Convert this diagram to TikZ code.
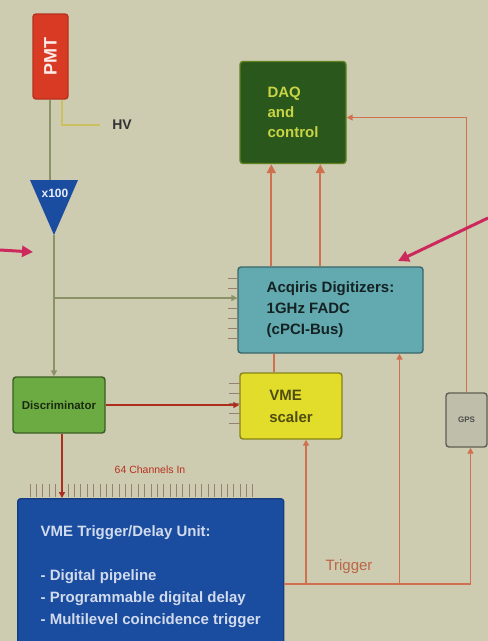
\documentclass[tikz,border=0pt]{standalone}
\usepackage{fontspec}
\setmainfont{Liberation Sans}
\usetikzlibrary{arrows.meta}
\definecolor{figBg}{RGB}{205,203,176}
\definecolor{figRed}{RGB}{216,58,36}
\definecolor{figDaq}{RGB}{42,88,28}
\definecolor{figDaqT}{RGB}{200,212,70}
\definecolor{figTeal}{RGB}{98,170,176}
\definecolor{figYel}{RGB}{226,220,42}
\definecolor{figGrn}{RGB}{108,170,66}
\definecolor{figBlue}{RGB}{26,76,160}
\definecolor{figGps}{RGB}{190,190,170}
\definecolor{figO}{RGB}{208,112,78}
\definecolor{figSig}{RGB}{138,146,104}
\definecolor{figHv}{RGB}{204,192,96}
\definecolor{figPink}{RGB}{204,40,92}
\definecolor{figT}{RGB}{150,128,112}

\begin{document}
\begin{tikzpicture}[x=1pt, y=-1pt,
  blk/.style={draw, line width=1.4pt, rounded corners=3pt, inner sep=2pt, align=left},
  link/.style={line width=1.8pt, figO},
  sig/.style={line width=1.8pt, figSig},
  tip/.style={-{Triangle[length=6pt,width=6pt]}},
  bigtip/.style={-{Triangle[length=9pt,width=9pt]}},
  tick/.style={line width=1pt, figT},
  pink/.style={line width=3pt, figPink, -{Triangle[length=11pt,width=11pt]}}]
% ====== canvas ======
\path[use as bounding box, fill=figBg] (0,0) rectangle (488,641);
\clip (0,0) rectangle (488,641);
% ====== blocks ======
\node[blk, fill=figRed, draw=figRed!85!black, minimum width=35pt, minimum height=85pt,
  text=white!90!figRed, font=\fontsize{18}{20}\selectfont\bfseries] (pmt) at (50.5,56.5) {\rotatebox{90}{PMT}};
\node[blk, fill=figDaq, draw=figDaq!70!figYel, minimum width=106pt, minimum height=102pt,
  text=figDaqT, font=\fontsize{15}{20}\selectfont\bfseries] (daq) at (293,112.5) {DAQ\\and\\control};
\node[blk, fill=figTeal, draw=figTeal!60!black, minimum width=185pt, minimum height=86pt,
  text=black!80!figTeal, font=\fontsize{15}{21}\selectfont\bfseries] (fadc) at (330.5,310) {Acqiris Digitizers:\\1GHz FADC\\(cPCI-Bus)};
\node[blk, fill=figYel, draw=figYel!60!black, minimum width=102pt, minimum height=66pt,
  text=black!65!figYel, font=\fontsize{15}{22}\selectfont\bfseries] (scaler) at (291,406) {VME\\scaler};
\node[blk, fill=figGrn, draw=figGrn!55!black, minimum width=92pt, minimum height=56pt,
  text=black!75!figGrn, font=\fontsize{11.5}{13}\selectfont\bfseries] (disc) at (59,405) {Discriminator};
\node[blk, fill=figGps, draw=figGps!50!black, minimum width=41pt, minimum height=54pt,
  text=black!70, font=\fontsize{8}{9}\selectfont\bfseries] (gps) at (466.5,420) {GPS};
\node[blk, fill=figBlue, draw=figBlue!80!black, anchor=north west, minimum width=266pt, minimum height=156pt,
  text=white!80!figBlue, font=\fontsize{15}{22}\selectfont\bfseries] (trig) at (17,498)
  {VME Trigger/Delay Unit:\\[22pt]- Digital pipeline\\- Programmable digital delay\\- Multilevel coincidence trigger};
% amplifier (triangle)
\fill[figBlue] (30,180) -- (78,180) -- (54,235) -- cycle;
\coordinate (amp-in) at (50,180);
\coordinate (amp-tip) at (54,235);
\node[text=white!90!figBlue, font=\fontsize{12}{14}\selectfont\bfseries] (amp) at (55,193) {x100};
% ====== labels ======
\node[font=\fontsize{14}{16}\selectfont\bfseries, text=black!80] (hv) at (122,125) {HV};
\node[font=\fontsize{10.5}{12}\selectfont, text=figRed!85!black] (chan) at (150,470) {64 Channels In};
\node[font=\fontsize{15}{17}\selectfont, text=figO!90!black] (trglab) at (349,567) {Trigger};
% ====== input stubs ======
\foreach \y in {278,288,...,338} \draw[tick] (228,\y) -- (238,\y);
\foreach \y in {383,393,...,423} \draw[tick] (229,\y) -- (240,\y);
\foreach \i in {0,...,35} \draw[tick] ({30+\i*6.37},484) -- ({30+\i*6.37},497);
% ====== analog chain ======
\draw[sig] ([xshift=-0.5pt]pmt.south) -- (amp-in);
\draw[line width=1.5pt, figHv] ([xshift=11.5pt]pmt.south) |- ([xshift=-9pt]hv.west);
\draw[sig, tip] (amp-tip) -- (amp-tip |- disc.north);
\coordinate (fadc-in) at ([yshift=12pt]fadc.west);
\draw[sig, tip] (amp-tip |- fadc-in) -- (fadc-in);
\draw[line width=1.8pt, figRed!80!black, tip] (disc.east) -- (disc.east -| scaler.west);
\draw[line width=1.8pt, figRed!80!black, tip] ([xshift=3pt]disc.south) -- ([xshift=3pt]disc.south |- trig.north);
% ====== readout ======
\coordinate (up1) at ([xshift=34pt]fadc.north west);
\coordinate (up2) at ([xshift=83pt]fadc.north west);
\draw[link, bigtip] (up1) -- (up1 |- daq.south);
\draw[link, bigtip] (up2) -- (up2 |- daq.south);
\coordinate (bus) at ([xshift=37pt]fadc.south west);
\draw[link] (bus) -- (bus |- scaler.north);
\draw[link, tip] (gps.north) |- ([yshift=-5pt]daq.east);
% ====== trigger distribution ======
\coordinate (trg-out) at ([yshift=-7pt]trig.east);
\coordinate (br1) at ([xshift=15pt]scaler.south);
\coordinate (br2) at ([xshift=69pt]fadc.south);
\draw[link, tip] (trg-out) -| ([xshift=4pt]gps.south);
\draw[link, tip] (br1 |- trg-out) -- (br1);
\draw[link, tip] (br2 |- trg-out) -- (br2);
% ====== external pointers ======
\coordinate (pin-l) at (0,250);
\coordinate (pin-r) at (488,218);
\draw[pink] (pin-l) -- (33,252);
\draw[pink] (pin-r) -- (398,261);
\end{tikzpicture}
\end{document}
